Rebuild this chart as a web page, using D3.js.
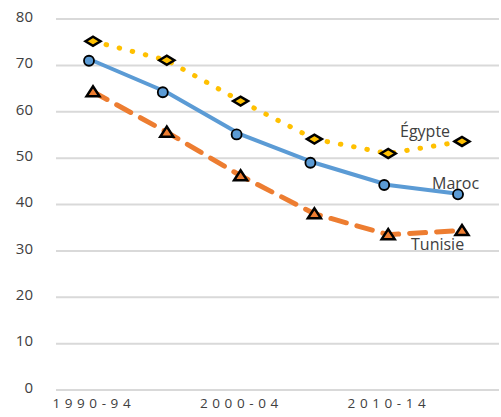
<html>
<head>
<script src="https://d3js.org/d3.v7.min.js"></script>
<style>
  body { margin: 0; background: #fff; }
  text { font-family: "Open Sans", "Noto Sans", sans-serif; fill: #404040; }
</style>
</head>
<body>
<script>
// data
var periodes = ['1990-94', '1995-99', '2000-04', '2005-09', '2010-14', '2015-19']
var egypte  = [75.2, 71.1, 62.3, 54.1, 51.0, 53.6]
var maroc   = [71.0, 64.2, 55.1, 49.0, 44.2, 42.2]
var tunisie = [64.3, 55.6, 46.2, 38.0, 33.5, 34.4]
var ticksY = [0, 10, 20, 30, 40, 50, 60, 70, 80]
var ticksX = ['1990-94', '2000-04', '2010-14']

var W = 501, H = 417

var svg = d3.select('body').append('svg')
  .attr('width', W)
  .attr('height', H)

var x = d3.scalePoint()
  .domain(periodes)
  .range([93, 462])

var y = d3.scaleLinear()
  .domain([0, 80])
  .range([390, 19])

// grille
svg.append('g').selectAll('line')
  .data(ticksY)
  .join('line')
  .attr('x1', 56).attr('x2', 499)
  .attr('y1', d => y(d)).attr('y2', d => y(d))
  .attr('stroke', '#d9d9d9')
  .attr('stroke-width', 2)

// axe Y
var axeY = svg.append('g')
  .attr('transform', 'translate(33,0)')
  .call(d3.axisLeft(y).tickValues(ticksY).tickSize(0).tickPadding(0))
axeY.select('.domain').remove()
axeY.selectAll('text')
  .attr('font-size', 15)
  .attr('dy', '0.15em')
  .style('font-family', '"Open Sans", sans-serif')
  .attr('fill', '#404040')

// axe X
var axeX = svg.append('g')
  .attr('transform', 'translate(-2,397)')
  .call(d3.axisBottom(x).tickValues(ticksX).tickSize(0).tickPadding(0))
axeX.select('.domain').remove()
axeX.selectAll('text')
  .attr('font-size', 13.5)
  .attr('dy', '0.85em')
  .attr('dx', '2.3px')
  .style('letter-spacing', '4.6px')
  .style('font-family', '"Open Sans", sans-serif')
  .attr('fill', '#404040')

var series = [
  {nom: 'Égypte', vals: egypte, couleur: '#FFC000', dx: 0, dash: '0.5 13', w: 5, marque: 'losange', lx: -62, ly: -4},
  {nom: 'Maroc', vals: maroc, couleur: '#5B9BD5', dx: -4, dash: null, w: 4, marque: 'cercle', lx: -30, ly: -5},
  {nom: 'Tunisie', vals: tunisie, couleur: '#ED7D31', dx: 0, dash: '16 11', w: 5, marque: 'triangle', lx: -51, ly: 20}
]

var ligne = d3.line()

series.forEach(function(s) {
  var pts = s.vals.map((v, i) => [x(periodes[i]) + s.dx, y(v)])
  svg.append('path')
    .attr('d', ligne(s.vals.map((v, i) => [x(periodes[i]), y(v)])))
    .attr('fill', 'none')
    .attr('stroke', s.couleur)
    .attr('stroke-width', s.w)
    .attr('stroke-linecap', 'round')
    .attr('stroke-linejoin', 'round')
    .attr('stroke-dasharray', s.dash)

  var g = svg.append('g')
  pts.forEach(function(p) {
    if (s.marque == 'cercle') {
      g.append('circle')
        .attr('cx', p[0]).attr('cy', p[1]).attr('r', 5)
        .attr('fill', s.couleur).attr('stroke', '#000').attr('stroke-width', 1.8)
    } else if (s.marque == 'losange') {
      g.append('path')
        .attr('d', 'M' + (p[0] - 7.5) + ',' + p[1] + 'L' + p[0] + ',' + (p[1] - 4.5) + 'L' + (p[0] + 7.5) + ',' + p[1] + 'L' + p[0] + ',' + (p[1] + 4.5) + 'Z')
        .attr('fill', s.couleur).attr('stroke', '#000').attr('stroke-width', 2.5)
    } else {
      g.append('path')
        .attr('d', 'M' + (p[0] - 6.5) + ',' + (p[1] + 4.5) + 'L' + p[0] + ',' + (p[1] - 5.5) + 'L' + (p[0] + 6.5) + ',' + (p[1] + 4.5) + 'Z')
        .attr('fill', s.couleur).attr('stroke', '#000').attr('stroke-width', 2.5)
    }
  })

  var last = pts[pts.length - 1]
  svg.append('text')
    .attr('x', last[0] + s.lx - s.dx)
    .attr('y', last[1] + s.ly)
    .attr('font-size', 16)
    .text(s.nom)
})
</script>
</body>
</html>
